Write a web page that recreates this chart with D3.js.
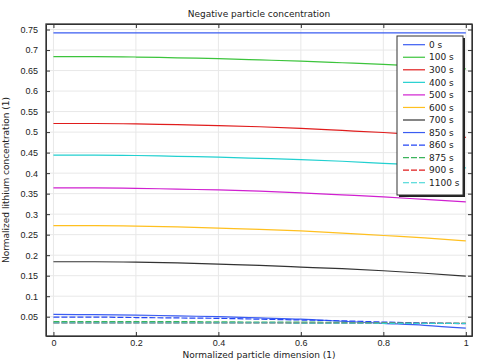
<!DOCTYPE html>
<html>
<head>
<meta charset="utf-8">
<script src="https://cdn.jsdelivr.net/npm/d3@7"></script>
<style>
  body { margin: 0; background: #fff; }
  svg { font-family: "DejaVu Sans", sans-serif; }
  .grid line { stroke: #e8e8e8; }
  .axis path, .axis line { stroke: #333; }
  .axis text { fill: #222; font-size: 9px; }
</style>
</head>
<body>
<svg id="chart"></svg>
<script>
// Normalized particle dimension
const xs = [0, 0.1, 0.2, 0.3, 0.4, 0.5, 0.6, 0.7, 0.8, 0.9, 1];

const labels = ['0 s', '100 s', '300 s', '400 s', '500 s', '600 s', '700 s',
  '850 s', '860 s', '875 s', '900 s', '1100 s'];

const c0 = [0.742, 0.742, 0.742, 0.742, 0.742, 0.742, 0.742, 0.742, 0.742, 0.742, 0.742];
const c100 = [0.684, 0.684, 0.683, 0.681, 0.679, 0.676, 0.673, 0.669, 0.665, 0.660, 0.654];
const c300 = [0.521, 0.521, 0.520, 0.518, 0.516, 0.513, 0.509, 0.504, 0.499, 0.493, 0.487];
const c400 = [0.444, 0.444, 0.443, 0.441, 0.439, 0.436, 0.433, 0.429, 0.424, 0.419, 0.413];
const c500 = [0.364, 0.364, 0.363, 0.361, 0.359, 0.356, 0.352, 0.347, 0.342, 0.336, 0.330];
const c600 = [0.272, 0.272, 0.271, 0.269, 0.266, 0.263, 0.259, 0.254, 0.248, 0.242, 0.235];
const c700 = [0.184, 0.184, 0.183, 0.181, 0.178, 0.175, 0.171, 0.167, 0.162, 0.156, 0.149];
const c850 = [0.0555, 0.055, 0.054, 0.052, 0.050, 0.047, 0.044, 0.039, 0.034, 0.029, 0.022];
const c860 = [0.049, 0.049, 0.048, 0.047, 0.046, 0.044, 0.042, 0.040, 0.037, 0.035, 0.033];
const c875 = [0.038, 0.038, 0.038, 0.038, 0.0375, 0.037, 0.037, 0.036, 0.035, 0.034, 0.034];
const c900 = [0.035, 0.035, 0.035, 0.035, 0.035, 0.035, 0.0345, 0.0345, 0.034, 0.034, 0.034];
const c1100 = [0.035, 0.035, 0.035, 0.035, 0.035, 0.035, 0.0345, 0.0345, 0.034, 0.034, 0.034];

const xTicks = [0, 0.2, 0.4, 0.6, 0.8, 1];
const yTicks = [0.05, 0.1, 0.15, 0.2, 0.25, 0.3, 0.35, 0.4, 0.45, 0.5, 0.55, 0.6, 0.65, 0.7, 0.75];

const seriesValues = [c0, c100, c300, c400, c500, c600, c700, c850, c860, c875, c900, c1100];
const colors = ['#3a5cf2', '#3cc43c', '#e01c1c', '#22d0d0', '#d020d0', '#ffc020', '#333333',
  '#3a5cf2', '#2446f5', '#3cb45c', '#e01c1c', '#30d2d2'];
const dashed = [false, false, false, false, false, false, false, false, true, true, true, true];

const series = labels.map((name, i) => ({
  name,
  color: colors[i],
  dashed: dashed[i],
  values: xs.map((x, j) => ({x, y: seriesValues[i][j]}))
}));

const W = 477, H = 360;
const margin = {top: 24, right: 5, bottom: 24, left: 46};
const width = W - margin.left - margin.right;
const height = H - margin.top - margin.bottom;

const svg = d3.select('#chart')
  .attr('width', W)
  .attr('height', H);

const chart = svg.append('g')
  .attr('transform', `translate(${margin.left}, ${margin.top})`);

const x = d3.scaleLinear()
  .domain([-0.018, 1.015])
  .range([0, width]);

const y = d3.scaleLinear()
  .domain([0.003, 0.7635])
  .range([height, 0]);

// Grid
chart.append('g')
  .attr('class', 'grid')
  .selectAll('line.v')
  .data(xTicks)
  .enter().append('line')
    .attr('x1', d => x(d)).attr('x2', d => x(d))
    .attr('y1', 0).attr('y2', height);

chart.append('g')
  .attr('class', 'grid')
  .selectAll('line.h')
  .data(yTicks)
  .enter().append('line')
    .attr('x1', 0).attr('x2', width)
    .attr('y1', d => y(d)).attr('y2', d => y(d));

// Lines
const line = d3.line()
  .x(d => x(d.x))
  .y(d => y(d.y))
  .curve(d3.curveMonotoneX);

chart.append('g')
  .selectAll('path')
  .data(series)
  .enter().append('path')
    .attr('fill', 'none')
    .attr('stroke', d => d.color)
    .attr('stroke-width', 1.2)
    .attr('stroke-dasharray', d => d.dashed ? '6,2' : null)
    .attr('d', d => line(d.values));

// Axes (ticks point inwards)
const fmt = d => String(d);

chart.append('g')
  .attr('class', 'axis')
  .attr('transform', `translate(0, ${height})`)
  .call(d3.axisBottom(x).tickValues(xTicks).tickFormat(fmt).tickSizeInner(-4).tickSizeOuter(0).tickPadding(4));

chart.append('g')
  .attr('class', 'axis')
  .call(d3.axisTop(x).tickValues(xTicks).tickFormat('').tickSizeInner(-4).tickSizeOuter(0));

chart.append('g')
  .attr('class', 'axis')
  .call(d3.axisLeft(y).tickValues(yTicks).tickFormat(fmt).tickSizeInner(-4).tickSizeOuter(0).tickPadding(8));

chart.append('g')
  .attr('class', 'axis')
  .attr('transform', `translate(${width}, 0)`)
  .call(d3.axisRight(y).tickValues(yTicks).tickFormat('').tickSizeInner(-4).tickSizeOuter(0));

chart.append('rect')
  .attr('width', width)
  .attr('height', height)
  .attr('fill', 'none')
  .attr('stroke', '#333')
  .attr('stroke-width', 1.3);

// Legend
const legend = chart.append('g')
  .attr('transform', `translate(${397 - margin.left}, ${36 - margin.top})`);

const lw = 66, lh = 159;
legend.append('rect')
  .attr('x', 2).attr('y', 2)
  .attr('width', lw).attr('height', lh)
  .attr('fill', '#222');
legend.append('rect')
  .attr('width', lw).attr('height', lh)
  .attr('fill', '#fff')
  .attr('stroke', '#333')
  .attr('stroke-width', 1);

const item = legend.selectAll('g.item')
  .data(series)
  .enter().append('g')
    .attr('class', 'item')
    .attr('transform', (d, i) => `translate(0, ${8.7 + i * 12.55})`);

item.append('line')
  .attr('x1', 6).attr('x2', 28)
  .attr('stroke', d => d.color)
  .attr('stroke-width', 1.2)
  .attr('stroke-dasharray', d => d.dashed ? '6,2' : null);

item.append('text')
  .attr('x', 32)
  .attr('dy', '0.35em')
  .attr('font-size', 9)
  .attr('fill', '#222')
  .text(d => d.name);

// Titles
svg.append('text')
  .attr('x', margin.left + width / 2)
  .attr('y', 17)
  .attr('text-anchor', 'middle')
  .attr('font-size', 9)
  .attr('fill', '#222')
  .text('Negative particle concentration');

svg.append('text')
  .attr('x', margin.left + width / 2)
  .attr('y', 358)
  .attr('text-anchor', 'middle')
  .attr('font-size', 9)
  .attr('fill', '#222')
  .text('Normalized particle dimension (1)');

svg.append('text')
  .attr('transform', `translate(9, ${margin.top + height / 2}) rotate(-90)`)
  .attr('text-anchor', 'middle')
  .attr('font-size', 9)
  .attr('fill', '#222')
  .text('Normalized lithium concentration (1)');
</script>
</body>
</html>
